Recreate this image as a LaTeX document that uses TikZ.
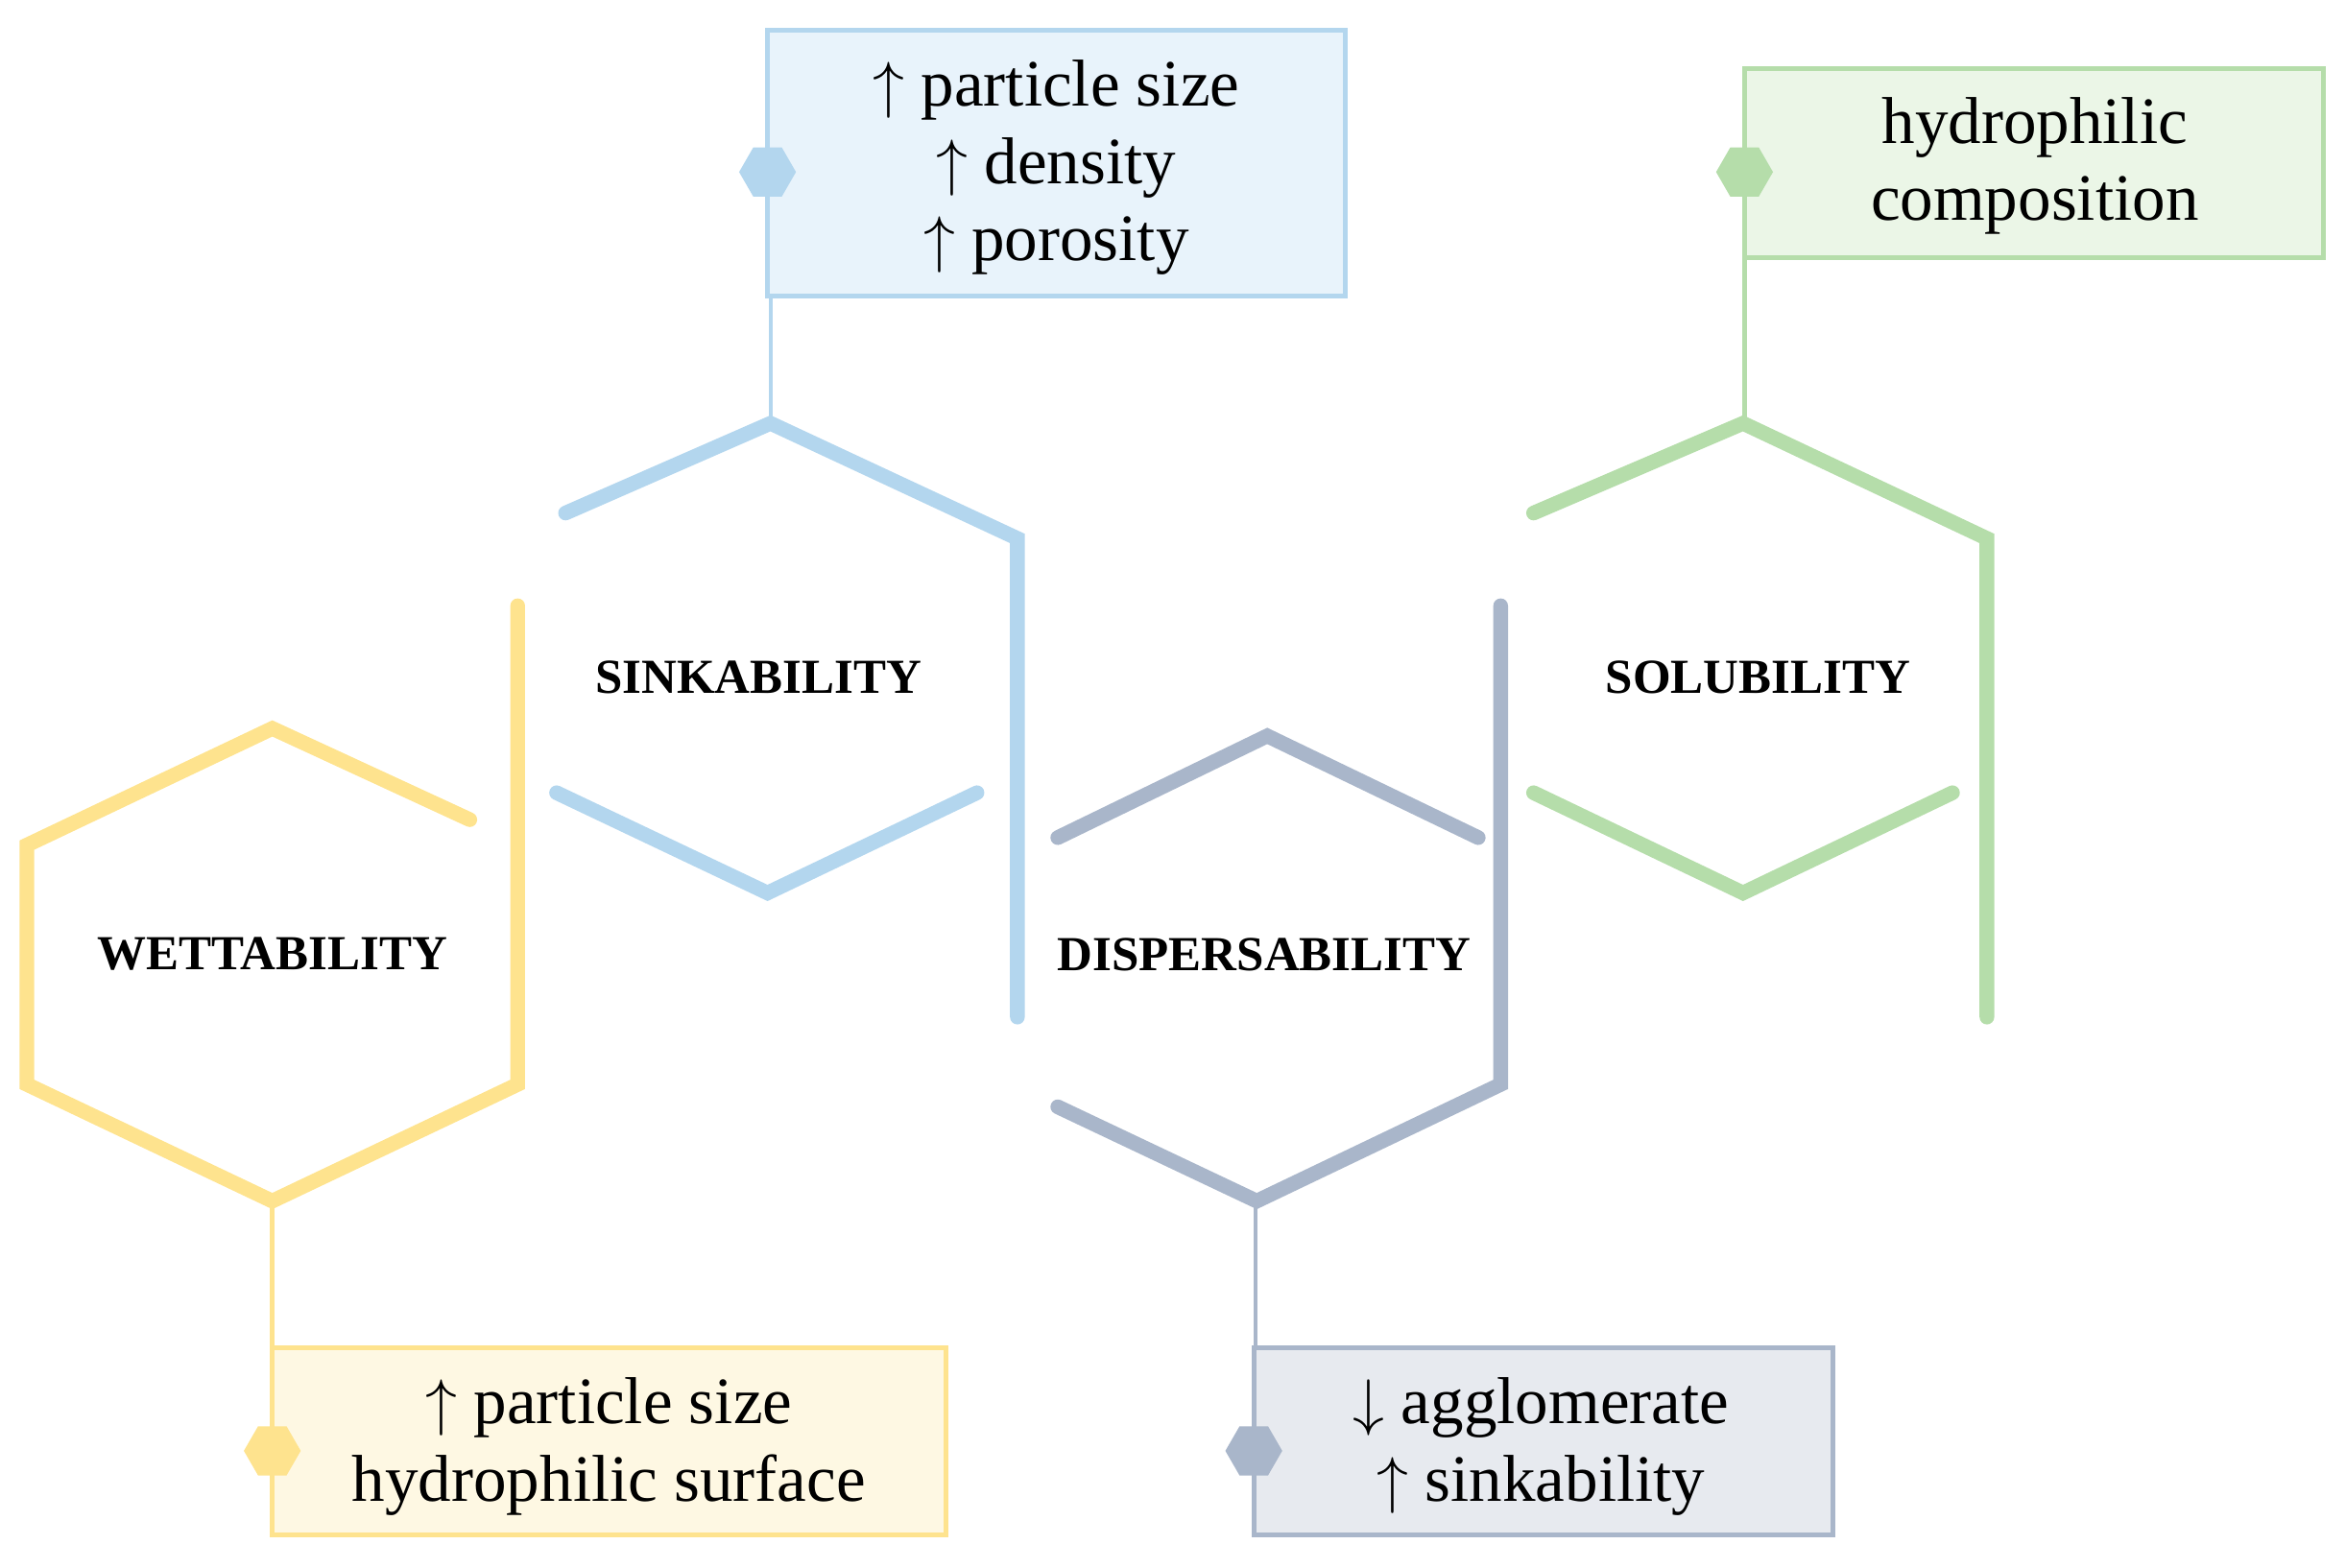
\documentclass[tikz,border=0pt]{standalone}
\usepackage{fontspec}
\setmainfont{Liberation Serif}
\usetikzlibrary{shapes.geometric}
\definecolor{cb}{HTML}{B3D6EE}\definecolor{fb}{HTML}{E8F3FB}
\definecolor{cg}{HTML}{B5DDAA}\definecolor{fg}{HTML}{EBF6E7}
\definecolor{cy}{HTML}{FEE38E}\definecolor{fy}{HTML}{FEF8E3}
\definecolor{cs}{HTML}{A9B6CA}\definecolor{fs}{HTML}{E7EAEF}
\begin{document}
\begin{tikzpicture}[x=0.01cm,y=-0.01cm,
 hex/.style={line width=2.8pt,line cap=round,line join=miter},
 box/.style={draw,line width=0.9pt,inner sep=0pt},
 btxt/.style={align=center,font=\fontsize{12.6pt}{14.7pt}\selectfont},
 lab/.style={font=\fontsize{9.3pt}{11pt}\selectfont\bfseries},
 conn/.style={line width=0.8pt},
 mk/.style={regular polygon,regular polygon sides=6,minimum size=0.38cm,inner sep=0pt,draw=none}]
\useasboundingbox (0,0) rectangle (1568,1048);
% wettability
\draw[hex,cy] (314,548) -- (182,487) -- (18,565) -- (18,725) -- (182,803) -- (346,725) -- (346,405);
\node[lab] (w) at (182,638) {WETTABILITY};
% sinkability
\draw[hex,cb] (378,343) -- (515,283) -- (680,360) -- (680,680);
\draw[hex,cb] (372,530) -- (513,597) -- (653,530);
\node[lab] (s) at (507,453) {SINKABILITY};
% dispersability
\draw[hex,cs] (707,560) -- (847,492) -- (988,560);
\draw[hex,cs] (1003,405) -- (1003,725) -- (840,803) -- (707,740);
\node[lab] (d) at (845,638) {DISPERSABILITY};
% solubility
\draw[hex,cg] (1025,343) -- (1165,283) -- (1328,360) -- (1328,680);
\draw[hex,cg] (1025,530) -- (1165,597) -- (1305,530);
\node[lab] (so) at (1175,453) {SOLUBILITY};
\coordinate (st) at (515,283); \coordinate (gt) at (1166,283);
\coordinate (wb) at (182,803); \coordinate (db) at (839,803);
% boxes
\draw[box,cb,fill=fb] (513,20) rectangle (899,198);
\node[btxt] (bt) at (706,112) {$\uparrow$ particle size\\$\uparrow$ density\\$\uparrow$ porosity};
\coordinate (bb) at (515,198);
\draw[conn,cb] (bb) -- (st);
\node[mk,fill=cb] (bm) at (513,115) {};
\draw[box,cg,fill=fg] (1166,46) rectangle (1553,172);
\node[btxt] (gtx) at (1360,111) {hydrophilic\\composition};
\coordinate (gb) at (1166,172);
\draw[conn,cg] (gb) -- (gt);
\node[mk,fill=cg] (gm) at (1166,115) {};
\draw[box,cy,fill=fy] (182,901) rectangle (632,1026);
\node[btxt] (yt) at (407,967) {$\uparrow$ particle size\\hydrophilic surface};
\coordinate (yb) at (182,901);
\draw[conn,cy] (wb) -- (yb);
\node[mk,fill=cy] (ym) at (182,970) {};
\draw[box,cs,fill=fs] (838,901) rectangle (1225,1026);
\node[btxt] (st2) at (1030,967) {$\downarrow$ agglomerate\\$\uparrow$ sinkability};
\coordinate (sb) at (839,901);
\draw[conn,cs] (db) -- (sb);
\node[mk,fill=cs] (sm) at (838,970) {};
\end{tikzpicture}
\end{document}
